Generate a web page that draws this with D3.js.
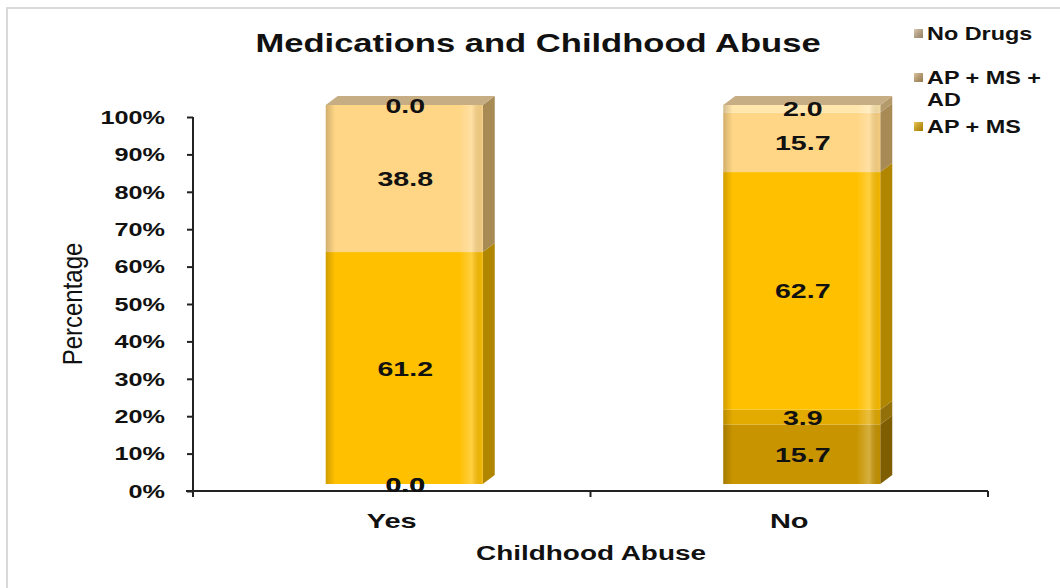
<!DOCTYPE html>
<html>
<head>
<meta charset="utf-8">
<script src="https://cdn.jsdelivr.net/npm/d3@7"></script>
<style>
  html, body { margin: 0; padding: 0; background: #fff; }
  svg { display: block; font-family: Arial, "Liberation Sans", sans-serif; }
</style>
</head>
<body>
<svg id="chart" width="1060" height="588"></svg>
<script>
// ---- data ----
const categories = ["Yes", "No"];
const seriesNames = ["Other A", "Other B", "AP + MS", "AP + MS + AD", "No Drugs"]; // bottom to top
const seriesYes = [0.0, 0.0, 61.2, 38.8, 0.0];
const seriesNo  = [15.7, 3.9, 62.7, 15.7, 2.0];
const legendShown = ["No Drugs", "AP + MS + AD", "AP + MS"];
const yTicks = [0, 0.1, 0.2, 0.3, 0.4, 0.5, 0.6, 0.7, 0.8, 0.9, 1.0];

const frontColors = ["#C89400", "#E3AA00", "#FFC000", "#FFD685", "#FFE6AC"];
const sideColors  = ["#7E5E00", "#94700A", "#B08500", "#A88A55", "#B49A6A"];
const legendColors = {"No Drugs": "#C8AE88", "AP + MS + AD": "#C9A56A", "AP + MS": "#E0A800"};

const SX = 1.33; // horizontal text stretch seen in the reference
const svg = d3.select("#chart");

function stretchedText(parent, x, y, txt, size, opts = {}) {
  const t = parent.append("text")
    .attr("transform", `translate(${x},${y}) scale(${opts.sx || SX},1)`)
    .attr("text-anchor", opts.anchor || "middle")
    .attr("font-size", size)
    .attr("font-weight", opts.weight || "bold")
    .attr("fill", "#111")
    .text(txt);
  if (opts.dy) t.attr("dy", opts.dy);
  return t;
}

// border
svg.append("rect").attr("x", 7).attr("y", 8).attr("width", 1200).attr("height", 800)
  .attr("fill", "none").attr("stroke", "#d9d9d9").attr("stroke-width", 2);

// defs
const defs = svg.append("defs");
const g1 = defs.append("linearGradient").attr("id", "shade").attr("x1", "0").attr("x2", "1").attr("y1", "0").attr("y2", "0");
[[0, "#000", 0.18], [0.06, "#000", 0.0], [0.85, "#fff", 0.0], [0.93, "#fff", 0.25], [1, "#000", 0.05]].forEach(s =>
  g1.append("stop").attr("offset", s[0]).attr("stop-color", s[1]).attr("stop-opacity", s[2]));
const lg = defs.append("linearGradient").attr("id", "lgshade").attr("x1", "0").attr("x2", "1").attr("y1", "0").attr("y2", "1");
lg.append("stop").attr("offset", 0).attr("stop-color", "#fff").attr("stop-opacity", 0.35);
lg.append("stop").attr("offset", 1).attr("stop-color", "#000").attr("stop-opacity", 0.25);

// scales
const x = d3.scaleBand().domain(categories).range([193, 988]).paddingInner(0).paddingOuter(0);
const yAxisScale = d3.scaleLinear().domain([0, 1]).range([491, 117]);
const yBar = d3.scaleLinear().domain([0, 100]).range([484, 105]);
const depthX = 12, depthY = 9;
const barW = 157;
const barOffset = -66;

const dataByCat = {Yes: seriesYes, No: seriesNo};

// title
stretchedText(svg, 538, 52, "Medications and Childhood Abuse", 26);

// y axis
const yAxis = d3.axisLeft(yAxisScale).tickValues(yTicks).tickSize(6).tickFormat("");
const yg = svg.append("g").attr("transform", "translate(193,0)").call(yAxis);
yg.select(".domain").attr("stroke", "#222").attr("stroke-width", 2).attr("d", "M0,117V491");
yg.selectAll(".tick line").attr("stroke", "#222").attr("stroke-width", 2);
const fmt = d3.format(".0%");
yTicks.forEach(v => stretchedText(svg, 165, yAxisScale(v), fmt(v), 19, {anchor: "end", dy: "0.36em"}));

// x axis
const xAxis = d3.axisBottom(x).tickSize(0).tickFormat("");
const xg = svg.append("g").attr("transform", "translate(0,491)").call(xAxis);
xg.select(".domain").attr("stroke", "#222").attr("stroke-width", 2).attr("d", "M186,0H988");
const sepTicks = [x.range()[0], x(categories[1]), x.range()[1]];
xg.selectAll("line.sep").data(sepTicks).enter().append("line").attr("class", "sep")
  .attr("x1", d => d).attr("x2", d => d).attr("y1", 0).attr("y2", 6)
  .attr("stroke", "#222").attr("stroke-width", 2);
categories.forEach(c => stretchedText(svg, x(c) + x.bandwidth() / 2, 528, c, 21, {sx: 1.38}));

// axis titles
svg.append("text").attr("transform", "translate(82,304) rotate(-90) scale(1,1.15)").attr("text-anchor", "middle")
  .attr("font-size", 24).attr("fill", "#111").text("Percentage");
stretchedText(svg, 591, 560, "Childhood Abuse", 21);

// bars
categories.forEach(cat => {
  const vals = dataByCat[cat];
  const left = x(cat) + x.bandwidth() / 2 + barOffset;
  const g = svg.append("g");
  let cum = 0;
  const segs = vals.map((v, i) => { const s = {i, v, y0: cum, y1: cum + v}; cum += v; return s; });
  segs.forEach(s => {
    if (s.v <= 0) return;
    const yTop = yBar(s.y1), yBot = yBar(s.y0);
    const r = left + barW;
    g.append("path").attr("d", `M${r},${yBot}L${r + depthX},${yBot - depthY}L${r + depthX},${yTop - depthY}L${r},${yTop}Z`)
      .attr("fill", sideColors[s.i]);
  });
  const yT = yBar(cum);
  g.append("path").attr("d", `M${left},${yT}L${left + depthX},${yT - depthY}L${left + barW + depthX},${yT - depthY}L${left + barW},${yT}Z`)
    .attr("fill", "#C7AD84");
  segs.forEach(s => {
    if (s.v <= 0) return;
    g.append("rect").attr("x", left).attr("y", yBar(s.y1)).attr("width", barW).attr("height", yBar(s.y0) - yBar(s.y1))
      .attr("fill", frontColors[s.i]);
  });
  g.append("rect").attr("x", left).attr("y", yBar(cum)).attr("width", barW).attr("height", yBar(0) - yBar(cum))
    .attr("fill", "url(#shade)");
  segs.forEach(s => {
    stretchedText(g, left + barW / 2 + 1, yBar((s.y0 + s.y1) / 2), s.v.toFixed(1), 21, {dy: "0.36em", sx: 1.36});
  });
});

// legend
const legendYs = {"No Drugs": [34], "AP + MS + AD": [78, 100], "AP + MS": [127]};
const legendLines = {"No Drugs": ["No Drugs"], "AP + MS + AD": ["AP + MS +", "AD"], "AP + MS": ["AP + MS"]};
legendShown.forEach(name => {
  const ys = legendYs[name];
  svg.append("rect").attr("x", 914).attr("y", ys[0] - 5).attr("width", 9).attr("height", 9).attr("fill", legendColors[name]);
  svg.append("rect").attr("x", 914).attr("y", ys[0] - 5).attr("width", 9).attr("height", 9).attr("fill", "url(#lgshade)");
  legendLines[name].forEach((ln, k) => {
    stretchedText(svg, 927, ys[k], ln, 18, {anchor: "start", dy: "0.36em", sx: 1.3});
  });
});
</script>
</body>
</html>
